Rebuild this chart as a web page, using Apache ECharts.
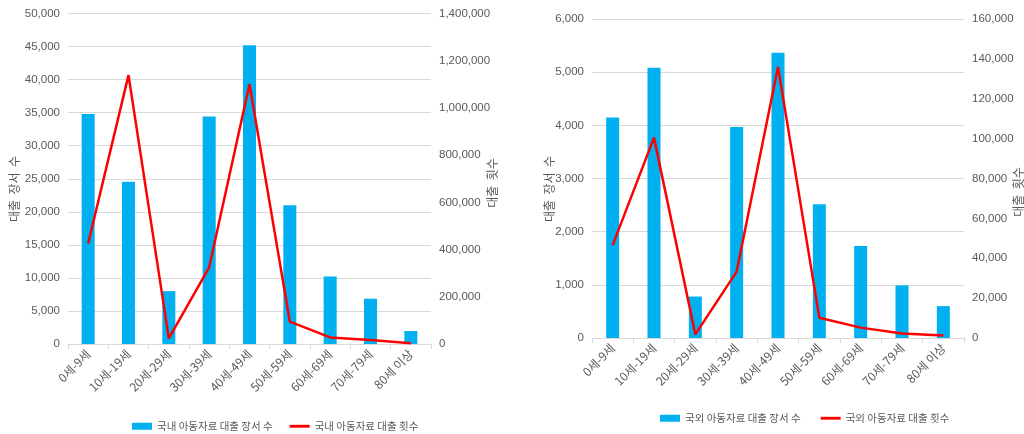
<!DOCTYPE html>
<html>
<head>
<meta charset="utf-8">
<script src="https://cdn.jsdelivr.net/npm/echarts@6/dist/echarts.min.js"></script>
<style>html,body{margin:0;padding:0;background:#fff;}#c{width:1024px;height:434px;}</style>
</head>
<body>
<div id="c"></div>
<script>
const categories = ['0세-9세','10세-19세','20세-29세','30세-39세','40세-49세','50세-59세','60세-69세','70세-79세','80세 이상'];
const domesticBooks = [34800, 24550, 8000, 34430, 45200, 21000, 10230, 6850, 1970];
const domesticLoans = [426000, 1139000, 24000, 325000, 1100000, 95000, 28000, 17000, 3000];
const foreignBooks = [4145, 5085, 780, 3970, 5365, 2515, 1730, 990, 600];
const foreignLoans = [46600, 100500, 1800, 33300, 136000, 10200, 5200, 2300, 1300];
const leftTitle = '대출  장서  수';
const rightTitle = '대출  횟수';
const seriesNames = ['국내 아동자료 대출 장서 수','국내 아동자료 대출 횟수','국외 아동자료 대출 장서 수','국외 아동자료 대출 횟수'];

const NUM_FONT = '"Liberation Sans", Arial, sans-serif';
const KR_FONT = '"Noto Sans CJK KR", "Liberation Sans", sans-serif';
const TXT = '#595959';
const GRID = '#d9d9d9';
const LINE_ICON = 'path://M0,0H21V3H0Z';
const fmt = v => v.toLocaleString('en-US');

function xAxis(gi){
  return {
    type:'category', gridIndex:gi, data:categories,
    axisLine:{show:true, lineStyle:{color:GRID}},
    axisTick:{show:true, length:5, lineStyle:{color:GRID}},
    axisLabel:{rotate:45, color:TXT, fontSize:12, fontFamily:KR_FONT, margin:8, interval:0}
  };
}
function yAxis(gi, pos, max, interval){
  return {
    type:'value', gridIndex:gi, position:pos, min:0, max:max, interval:interval,
    axisLine:{show:false}, axisTick:{show:false},
    axisLabel:{color:TXT, fontSize:11.5, fontFamily:NUM_FONT, margin:8, formatter:fmt},
    splitLine:{show: pos==='left', lineStyle:{color:GRID, width:1}}
  };
}
function title(x, y, text){
  return {type:'text', x:x, y:y, rotation:Math.PI/2,
    style:{text:text, fill:TXT, font:'12px "Noto Sans CJK KR", sans-serif', align:'center', verticalAlign:'middle'}};
}

const chart = echarts.init(document.getElementById('c'));
chart.setOption({
  animation:false,
  backgroundColor:'#fff',
  grid:[
    {left:68, right:593, top:13.5, bottom:90},
    {left:592, right:60, top:19, bottom:96}
  ],
  xAxis:[xAxis(0), xAxis(1)],
  yAxis:[
    yAxis(0,'left',50000,5000),
    yAxis(0,'right',1400000,200000),
    yAxis(1,'left',6000,1000),
    yAxis(1,'right',160000,20000)
  ],
  graphic:[
    title(14, 189, leftTitle),
    title(492, 183, rightTitle),
    title(549, 189, leftTitle),
    title(1018, 192, rightTitle)
  ],
  legend:[
    {left:132, top:421, padding:0, itemWidth:20, itemHeight:7, itemGap:17,
     textStyle:{color:TXT, fontSize:10.5, fontFamily:KR_FONT},
     data:[{name:seriesNames[0], icon:'rect'}, {name:seriesNames[1], icon:LINE_ICON}]},
    {left:660, top:413, padding:0, itemWidth:20, itemHeight:7, itemGap:20,
     textStyle:{color:TXT, fontSize:10.5, fontFamily:KR_FONT},
     data:[{name:seriesNames[2], icon:'rect'}, {name:seriesNames[3], icon:LINE_ICON}]}
  ],
  series:[
    {name:seriesNames[0], type:'bar', xAxisIndex:0, yAxisIndex:0, data:domesticBooks, barWidth:13, itemStyle:{color:'#00b0f0'}},
    {name:seriesNames[1], type:'line', xAxisIndex:0, yAxisIndex:1, data:domesticLoans, symbol:'none', lineStyle:{color:'#ff0000', width:2.5}, itemStyle:{color:'#ff0000'}},
    {name:seriesNames[2], type:'bar', xAxisIndex:1, yAxisIndex:2, data:foreignBooks, barWidth:13, itemStyle:{color:'#00b0f0'}},
    {name:seriesNames[3], type:'line', xAxisIndex:1, yAxisIndex:3, data:foreignLoans, symbol:'none', lineStyle:{color:'#ff0000', width:2.5}, itemStyle:{color:'#ff0000'}}
  ]
});
</script>
</body>
</html>
